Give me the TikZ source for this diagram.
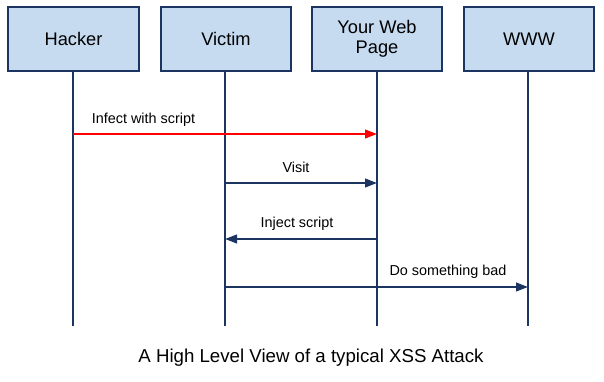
\documentclass[tikz,border=0pt]{standalone}
\usepackage{fontspec}
\setmainfont{Liberation Sans}
\usetikzlibrary{arrows.meta,positioning}
\definecolor{boxfill}{HTML}{C6DBF0}
\definecolor{navy}{HTML}{1B3560}
\definecolor{alarm}{HTML}{FF0000}

\begin{document}
\begin{tikzpicture}[x=0.75pt,y=-0.75pt,
  actor/.style={draw=navy,fill=boxfill,line width=1.5pt,minimum width=98pt,minimum height=48pt,align=center,font=\fontsize{13.7}{15}\selectfont,inner sep=0pt},
  lifeline/.style={draw=navy,line width=1.5pt},
  msg/.style={draw=navy,line width=1.5pt,-{Triangle[length=9pt,width=6.5pt]}},
  msglabel/.style={font=\fontsize{10.8}{12}\selectfont}]
\useasboundingbox (0,0) rectangle (604,382);
% actors
\node[actor] (hacker) at (73.5,39) {Hacker};
\node[actor] (victim) at (226,39) {Victim};
\node[actor] (webpage) at (377,39) {Your Web\\Page};
\node[actor] (www) at (529,39) {WWW};
% lifeline ends
\coordinate (hacker-end) at (73,326);
\coordinate (victim-end) at (225,326);
\coordinate (webpage-end) at (377,326);
\coordinate (www-end) at (528,326);
\draw[lifeline] (hacker.south -| hacker-end) -- (hacker-end);
\draw[lifeline] (victim.south -| victim-end) -- (victim-end);
\draw[lifeline] (webpage.south -| webpage-end) -- (webpage-end);
\draw[lifeline] (www.south -| www-end) -- (www-end);
% messages
\coordinate (infect-a) at (73,134);
\coordinate (infect-b) at (377,134);
\coordinate (visit-a) at (225,183);
\coordinate (visit-b) at (377,183);
\coordinate (inject-a) at (377,239);
\coordinate (inject-b) at (225,239);
\coordinate (bad-a) at (225,287);
\coordinate (bad-b) at (528,287);
\draw[msg,draw=alarm,-{Triangle[length=9pt,width=6.5pt]},color=alarm] (infect-a) -- (infect-b);
\draw[msg] (visit-a) -- (visit-b);
\draw[msg] (inject-a) -- (inject-b);
\draw[msg] (bad-a) -- (bad-b);
\node[msglabel] (infect-lbl) at (143.5,120) {Infect with script};
\node[msglabel] (visit-lbl) at (296,167) {Visit};
\node[msglabel] (inject-lbl) at (297,224) {Inject script};
\node[msglabel] (bad-lbl) at (448,272) {Do something bad};
% caption
\node[font=\fontsize{14}{16}\selectfont] (caption) at (311,358) {A High Level View of a typical XSS Attack};
\end{tikzpicture}
\end{document}
